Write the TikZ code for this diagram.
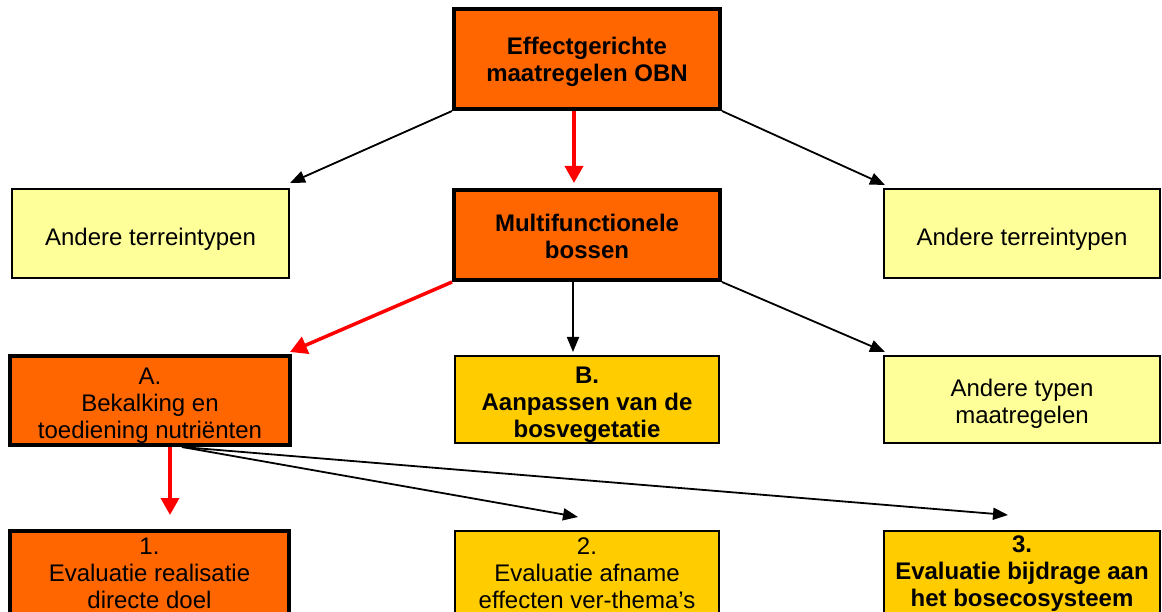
\documentclass[tikz,border=0pt]{standalone}
\usepackage{fontspec}
\setmainfont{Liberation Sans}
\usetikzlibrary{arrows.meta}
\definecolor{orng}{HTML}{FF6600}
\definecolor{lyel}{HTML}{FFFF99}
\definecolor{gold}{HTML}{FFCC00}
\definecolor{redarr}{HTML}{FF0000}
\tikzset{
  box/.style={draw=black, inner sep=0pt},
  thickbox/.style={box, line width=4pt},
  thinbox/.style={box, line width=2pt},
  txt/.style={align=center, inner sep=0pt, font=\fontsize{24}{27}\selectfont},
  btxt/.style={txt, font=\fontsize{24}{27}\selectfont\bfseries},
  blackarr/.style={draw=black, line width=1.8pt, -{Triangle[length=15pt,width=12pt]}},
  redarrow/.style={draw=redarr, line width=3.5pt, -{Triangle[length=17pt,width=18pt]}}
}
\begin{document}
\begin{tikzpicture}[x=1pt,y=-1pt]
\useasboundingbox (0,0) rectangle (1162,612);
\clip (0,0) rectangle (1162,612);
\fill[white] (0,0) rectangle (1162,612);

\node[thickbox, fill=orng, minimum width=266pt, minimum height=100pt] (top) at (587,59) {};
\node[btxt] (topT) at ([yshift=-3pt]top.center) {Effectgerichte\\maatregelen OBN};
\node[thickbox, fill=orng, minimum width=266pt, minimum height=90pt] (mf) at (587,235) {};
\node[btxt] (mfT) at ([yshift=-1pt]mf.center) {Multifunctionele\\bossen};
\node[thinbox, fill=lyel, minimum width=277pt, minimum height=89pt] (lt) at (150.5,233.5) {};
\node[txt] (ltT) at ([yshift=-6pt]lt.center) {Andere terreintypen};
\node[thinbox, fill=lyel, minimum width=276pt, minimum height=89pt] (rt) at (1022,233.5) {};
\node[txt] (rtT) at ([yshift=-6pt]rt.center) {Andere terreintypen};

\node[thickbox, fill=orng, minimum width=280pt, minimum height=89pt] (A) at (150,400.5) {};
\node[txt] (AT) at ([yshift=-5pt]A.center) {A.\\Bekalking en\\toediening nutriënten};
\node[thinbox, fill=gold, minimum width=264pt, minimum height=87pt] (B) at (587,399.5) {};
\node[btxt] (BT) at ([yshift=-5pt]B.center) {B.\\Aanpassen van de\\bosvegetatie};
\node[thinbox, fill=lyel, minimum width=276pt, minimum height=87pt] (atm) at (1022,399.5) {};
\node[txt] (atmT) at ([yshift=-4pt]atm.center) {Andere typen\\maatregelen};

\node[thickbox, fill=orng, minimum width=279pt, minimum height=90pt] (e1) at (149.5,576) {};
\node[txt] (e1T) at ([yshift=3pt]e1.center) {1.\\Evaluatie realisatie\\directe doel};
\node[thinbox, fill=gold, minimum width=264pt, minimum height=90pt] (e2) at (587,576) {};
\node[txt] (e2T) at ([yshift=3pt]e2.center) {2.\\Evaluatie afname\\effecten ver-thema’s};
\node[thinbox, fill=gold, minimum width=276pt, minimum height=90pt] (e3) at (1022,576) {};
\node[btxt] (e3T) at ([yshift=2pt]e3.center) {3.\\Evaluatie bijdrage aan\\het bosecosysteem};

\coordinate (tL) at (290,183);
\coordinate (tR) at (885,185);
\coordinate (tM) at (574,183);
\coordinate (mL) at (290,352);
\coordinate (mM) at (573,352);
\coordinate (mR) at (885,352);
\coordinate (aS) at (182,447);
\coordinate (aR) at (170,447);
\coordinate (a1) at (170,515);
\coordinate (a2) at (578,517);
\coordinate (a3) at (1008,515);

\draw[blackarr] (top.south west) -- (tL);
\draw[blackarr] (top.south east) -- (tR);
\draw[redarrow] (top.south -| tM) -- (tM);
\draw[redarrow] (mf.south west) -- (mL);
\draw[blackarr] (mf.south -| mM) -- (mM);
\draw[blackarr] (mf.south east) -- (mR);
\draw[blackarr] (aS) -- (a2);
\draw[blackarr] (aS) -- (a3);
\draw[redarrow] (aR) -- (a1);
\end{tikzpicture}
\end{document}
